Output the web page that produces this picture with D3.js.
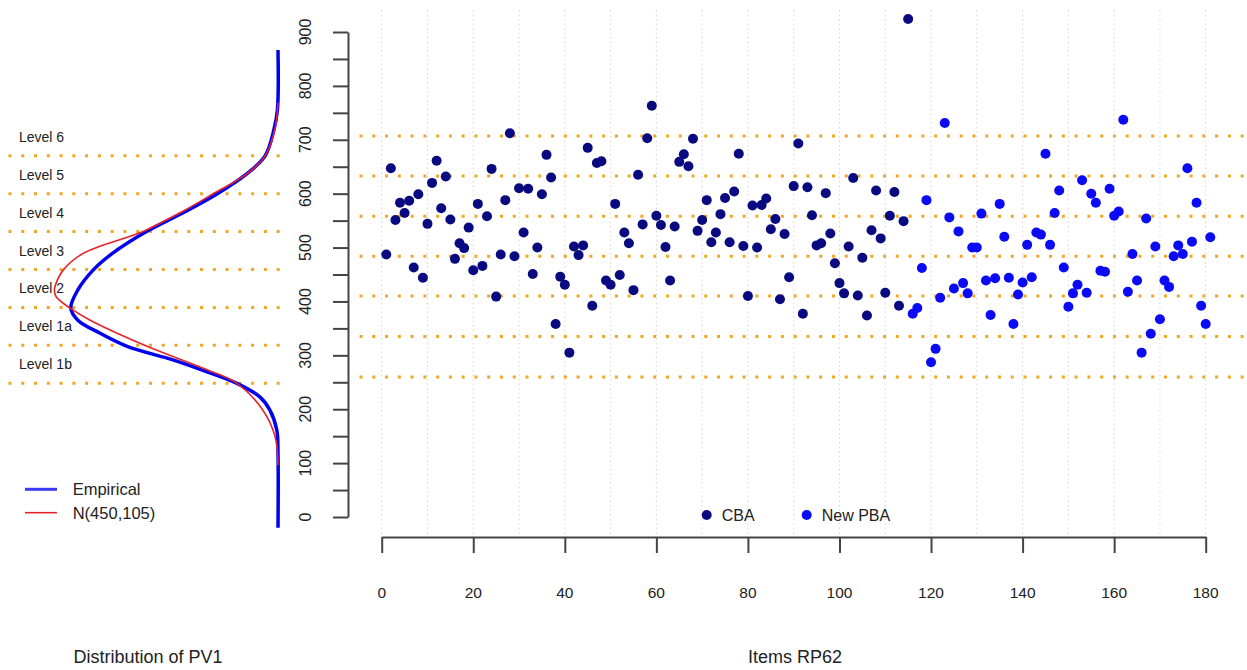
<!DOCTYPE html>
<html>
<head>
<meta charset="utf-8">
<script src="https://cdn.jsdelivr.net/npm/d3@7"></script>
<style>
  html, body { margin: 0; padding: 0; background: #fff; }
  svg { display: block; font-family: "Liberation Sans", Arial, Helvetica, sans-serif; }
</style>
</head>
<body>
<svg id="chart" width="1247" height="670"></svg>
<script>
// ---------------- data ----------------
const cbaValues = [
  487, 647, 551, 583, 564, 587, 463, 599, 444, 544,
  620, 661, 573, 632, 552, 479, 508, 499, 537, 458,
  581, 466, 558, 646, 409, 487, 588, 712, 484, 610,
  528, 609, 451, 500, 599, 672, 630, 358, 446, 431,
  305, 502, 486, 504, 685, 392, 657, 660, 439, 431,
  581, 449, 528, 508, 421, 635, 543, 703, 763, 559,
  542, 501, 439, 539, 659, 673, 651, 702, 531, 551,
  588, 510, 528, 562, 592, 510, 604, 674, 503, 410,
  578, 500, 579, 591, 534, 553, 404, 525, 445, 614,
  693, 377, 612, 560, 504, 508, 601, 526, 471, 434,
  415, 502, 629, 411, 481, 374, 532, 606, 517, 416,
  559, 603, 392, 549, 924
];
const pbaValues = [
  377, 388, 462, 588, 287, 312, 407, 731, 556, 424,
  530, 434, 415, 500, 500, 563, 439, 375, 443, 581,
  520, 444, 358, 413, 435, 505, 445, 528, 524, 674,
  505, 564, 606, 463, 390, 415, 431, 625, 416, 600,
  583, 457, 455, 609, 559, 567, 737, 418, 488, 439,
  305, 554, 340, 502, 367, 439, 427, 484, 504, 488,
  647, 511, 583, 392, 358, 519
];
const seriesNames = ["CBA", "New PBA"];
const xTicks = [0, 20, 40, 60, 80, 100, 120, 140, 160, 180];
const yTicks = [0, 50, 100, 150, 200, 250, 300, 350, 400, 450, 500, 550, 600, 650, 700, 750, 800, 850, 900];
const yLabels = [0, 100, 200, 300, 400, 500, 600, 700, 800, 900];
const gridX = [0, 10, 20, 30, 40, 50, 60, 70, 80, 90, 100, 110, 120, 130, 140, 150, 160, 170, 180];
const itemCuts = [260, 335, 410, 484, 558, 633, 707];

// left panel: proficiency levels and densities of PV1 (score, density)
const levelCuts = [262.04, 334.75, 407.47, 480.18, 552.89, 625.61, 698.32];
const levelNames = ["Level 1b", "Level 1a", "Level 2", "Level 3", "Level 4", "Level 5", "Level 6"];
const empScore = [-15, 128, 172, 211, 236, 262, 287, 307, 333, 358, 383, 406, 441, 479, 512, 553, 590, 625, 662, 698, 748, 786, 901];
const empDens  = [0, 0, 0.00002, 0.00014, 0.00031, 0.0007, 0.00128, 0.00179, 0.00257, 0.00303, 0.00341, 0.00353, 0.00341, 0.00315, 0.00281, 0.00224, 0.00160, 0.00104, 0.00055, 0.00022, 0.00007, 0.00001, 0];
const normScore = [105, 160, 211, 262, 288, 333, 383, 406, 428, 441, 454, 479, 511, 553, 590, 625, 662, 698, 750, 800];
const normDens  = [0, 0.00005, 0.00026, 0.0007, 0.00121, 0.00223, 0.0032, 0.00354, 0.00378, 0.00381, 0.00378, 0.00366, 0.00332, 0.0023, 0.00165, 0.00111, 0.00055, 0.00022, 0.00005, 0];

// ---------------- drawing ----------------
const svg = d3.select("#chart");
const textColor = "#222";
const axisColor = "#444";
const orange = "#F2A623";

// scales
const x = d3.scaleLinear().domain([0, 180]).range([381.7, 1205.7]);
const y = d3.scaleLinear().domain([0, 900]).range([517, 32]);
const yL = d3.scaleLinear().domain([0, 900]).range([520, 50.5]);
const dL = d3.scaleLinear().domain([0, 0.004]).range([278, 43.2]);

// vertical dotted grid
svg.append("g").selectAll("line").data(gridX).join("line")
  .attr("x1", d => x(d)).attr("x2", d => x(d))
  .attr("y1", 10).attr("y2", 537)
  .attr("stroke", "#d6d6d6").attr("stroke-width", 1)
  .attr("stroke-dasharray", "1.5 3");

// right panel level lines
svg.append("g").selectAll("line").data(itemCuts).join("line")
  .attr("x1", 359.5).attr("x2", 1247)
  .attr("y1", d => y(d)).attr("y2", d => y(d))
  .attr("stroke", orange).attr("stroke-width", 3)
  .attr("stroke-dasharray", "3 9.77");

// left panel level lines
svg.append("g").selectAll("line").data(levelCuts).join("line")
  .attr("x1", 8.5).attr("x2", 280)
  .attr("y1", d => yL(d)).attr("y2", d => yL(d))
  .attr("stroke", orange).attr("stroke-width", 3)
  .attr("stroke-dasharray", "3 9.77");

// level labels (between cut lines)
svg.append("g").selectAll("text").data(levelNames).join("text")
  .attr("x", 19)
  .attr("y", (d, i) => yL(levelCuts[i]) - 19)
  .attr("dominant-baseline", "central")
  .attr("font-size", 14).attr("fill", textColor)
  .text(d => d);

// density curves
const empLine = d3.line().curve(d3.curveCatmullRom)
  .x((d, i) => dL(empDens[i])).y((d, i) => yL(empScore[i]));
const normLine = d3.line().curve(d3.curveCatmullRom)
  .x((d, i) => dL(normDens[i])).y((d, i) => yL(normScore[i]));
svg.append("path").attr("d", empLine(empScore))
  .attr("fill", "none").attr("stroke", "#0000F0").attr("stroke-width", 3.5);
svg.append("path").attr("d", normLine(normScore))
  .attr("fill", "none").attr("stroke", "#E3242B").attr("stroke-width", 1.6);

// left legend
const legL = [{name: "Empirical", color: "#3b3bf5", w: 3}, {name: "N(450,105)", color: "#E3242B", w: 1.6}];
const legLg = svg.append("g").selectAll("g").data(legL).join("g")
  .attr("transform", (d, i) => `translate(0, ${489.3 + i * 23.4})`);
legLg.append("line").attr("x1", 25).attr("x2", 57).attr("y1", 0).attr("y2", 0)
  .attr("stroke", d => d.color).attr("stroke-width", d => d.w);
legLg.append("text").attr("x", 72.7).attr("y", 0).attr("dominant-baseline", "central")
  .attr("font-size", 16.5).attr("fill", textColor).text(d => d.name);

// y axis (right panel)
const yAxis = d3.axisLeft(y).tickValues(yTicks).tickFormat("").tickSize(15).tickSizeOuter(0);
const gy = svg.append("g").attr("transform", "translate(348,0)").call(yAxis);
gy.selectAll("path, line").attr("stroke", axisColor).attr("stroke-width", 2);
svg.append("g").selectAll("text").data(yLabels).join("text")
  .attr("transform", d => `translate(305, ${y(d)}) rotate(-90)`)
  .attr("text-anchor", "middle").attr("dominant-baseline", "central")
  .attr("font-size", 16).attr("fill", textColor)
  .text(d => d);

// x axis
const xAxis = d3.axisBottom(x).tickValues(xTicks).tickFormat("").tickSize(16).tickSizeOuter(0);
const gx = svg.append("g").attr("transform", "translate(0,537)").call(xAxis);
gx.selectAll("path, line").attr("stroke", axisColor).attr("stroke-width", 2);
svg.append("g").selectAll("text").data(xTicks).join("text")
  .attr("x", d => x(d)).attr("y", 592)
  .attr("text-anchor", "middle").attr("dominant-baseline", "central")
  .attr("font-size", 15.5).attr("fill", textColor)
  .text(d => d);

// points
const colors = {"CBA": "#0A0A80", "New PBA": "#0A0AF5"};
const points = cbaValues.map((v, i) => ({item: i + 1, value: v, s: "CBA"}))
  .concat(pbaValues.map((v, i) => ({item: cbaValues.length + i + 1, value: v, s: "New PBA"})));
svg.append("g").selectAll("circle").data(points).join("circle")
  .attr("cx", d => x(d.item)).attr("cy", d => y(d.value)).attr("r", 5)
  .attr("fill", d => colors[d.s]);

// bottom legend
const legR = svg.append("g").selectAll("g").data(seriesNames).join("g")
  .attr("transform", (d, i) => `translate(${706.7 + i * 100}, 515)`);
legR.append("circle").attr("r", 5).attr("fill", d => colors[d]);
legR.append("text").attr("x", 15).attr("y", 0).attr("dominant-baseline", "central")
  .attr("font-size", 16).attr("fill", textColor).text(d => d);

// titles
svg.append("text").attr("x", 795).attr("y", 657).attr("text-anchor", "middle")
  .attr("dominant-baseline", "central").attr("font-size", 18).attr("fill", textColor)
  .text("Items RP62");
svg.append("text").attr("x", 148).attr("y", 657).attr("text-anchor", "middle")
  .attr("dominant-baseline", "central").attr("font-size", 18).attr("fill", textColor)
  .text("Distribution of PV1");
</script>
</body>
</html>
